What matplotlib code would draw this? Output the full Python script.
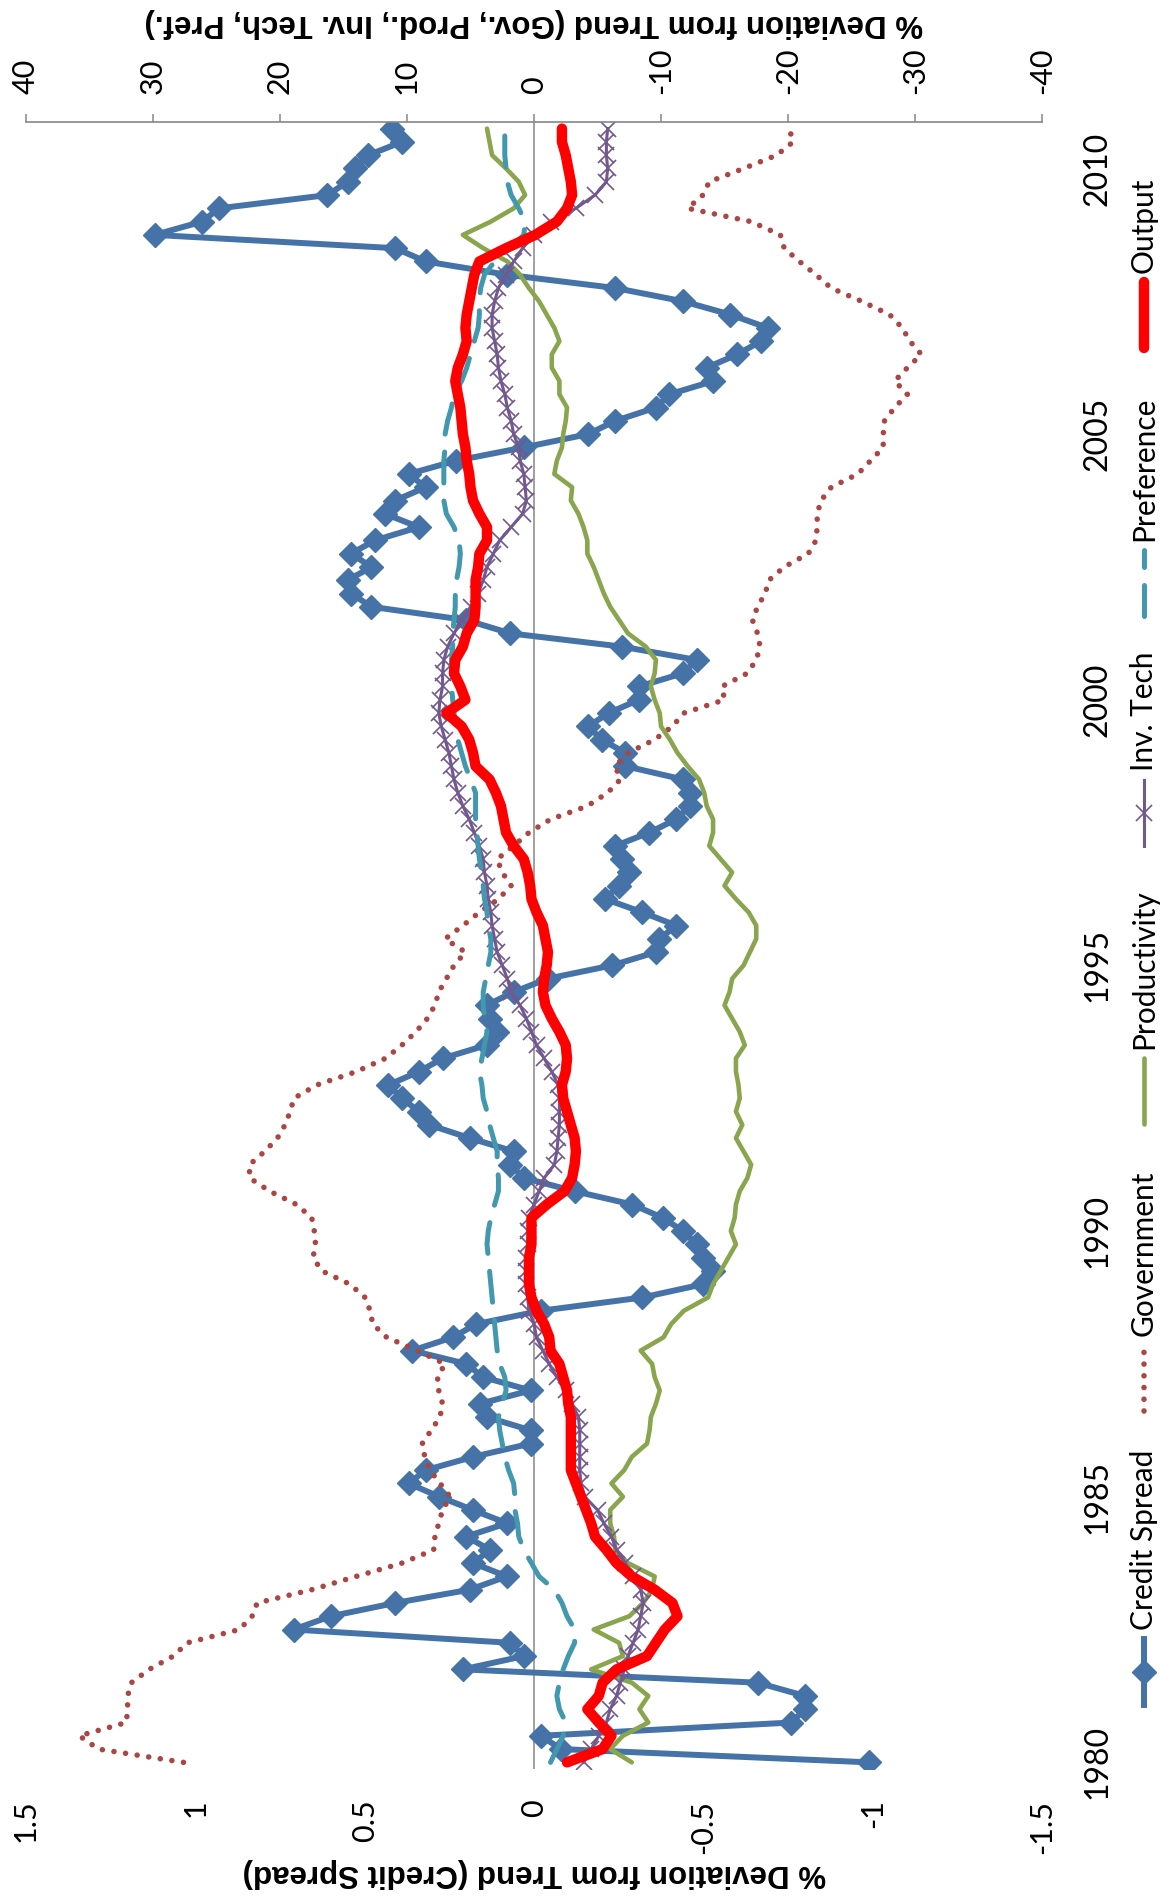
import numpy as np
import matplotlib
matplotlib.use("Agg")
import matplotlib.pyplot as plt
from matplotlib.lines import Line2D

# quarterly data, 1980Q1 .. 2010Q4
credit_spread = [-0.99, -0.08, -0.02, -0.76, -0.80, -0.80, -0.66, 0.21, 0.03, 0.07,
                 0.71, 0.60, 0.41, 0.19, 0.08, 0.18, 0.13, 0.20, 0.08, 0.18,
                 0.28, 0.37, 0.32, 0.18, 0.01, 0.01, 0.14, 0.16, 0.01, 0.15,
                 0.20, 0.36, 0.24, 0.17, -0.02, -0.32, -0.50, -0.53, -0.50, -0.48,
                 -0.44, -0.38, -0.29, -0.12, 0.03, 0.07, 0.06, 0.19, 0.31, 0.34,
                 0.39, 0.43, 0.34, 0.27, 0.14, 0.11, 0.13, 0.14, 0.06, -0.04,
                 -0.23, -0.36, -0.37, -0.42, -0.32, -0.21, -0.25, -0.28, -0.26, -0.24,
                 -0.34, -0.42, -0.46, -0.46, -0.44, -0.27, -0.27, -0.20, -0.16, -0.22,
                 -0.31, -0.31, -0.44, -0.48, -0.26, 0.07, 0.20, 0.48, 0.54, 0.55,
                 0.48, 0.54, 0.47, 0.34, 0.44, 0.41, 0.32, 0.37, 0.23, 0.03,
                 -0.16, -0.24, -0.36, -0.40, -0.53, -0.51, -0.60, -0.67, -0.69, -0.58,
                 -0.44, -0.24, 0.08, 0.32, 0.41, 1.12, 0.98, 0.93, 0.61, 0.55,
                 0.53, 0.49, 0.39, 0.42]

government = [27.6, 34.3, 35.8, 32.1, 32.0, 32.0, 31.7, 30.3, 28.4, 27.3,
              23.2, 22.2, 21.8, 17.5, 14.0, 10.4, 7.9, 7.8, 7.5, 7.2,
              6.6, 7.4, 8.2, 8.6, 8.8, 8.1, 7.4, 7.2, 7.5, 7.6,
              7.0, 9.2, 11.6, 12.7, 12.9, 13.3, 14.5, 16.7, 17.4, 17.2,
              17.3, 17.5, 18.7, 20.8, 22.4, 22.4, 21.2, 20.2, 19.6, 19.2,
              18.9, 17.1, 14.0, 11.7, 10.4, 9.3, 8.4, 7.8, 7.5, 6.9,
              6.3, 5.4, 7.0, 5.6, 4.3, 2.8, 1.8, 2.5, 2.9, 1.6,
              0.4, -1.3, -4.2, -5.8, -6.8, -6.4, -7.4, -9.5, -10.9, -11.8,
              -15.0, -14.8, -16.8, -17.5, -17.8, -17.6, -17.2, -17.6, -18.2, -18.5,
              -19.7, -21.6, -22.2, -22.3, -22.3, -22.6, -23.4, -25.5, -26.5, -27.5,
              -27.5, -27.6, -28.4, -29.4, -28.4, -29.4, -30.5, -29.6, -29.0, -28.0,
              -25.8, -23.4, -22.2, -20.9, -19.7, -19.4, -17.1, -12.1, -13.3, -13.8,
              -16.5, -19.1, -20.4, -20.1]

productivity = [-7.7, -6.0, -7.0, -9.0, -8.3, -9.0, -7.7, -4.5, -7.0, -6.7,
                -4.7, -7.5, -8.6, -9.3, -9.5, -7.4, -6.4, -6.3, -6.0, -6.0,
                -7.0, -6.1, -7.1, -7.7, -8.9, -9.1, -9.2, -9.6, -9.9, -9.5,
                -9.3, -8.4, -10.2, -10.8, -11.8, -13.7, -14.1, -14.7, -15.3, -15.9,
                -15.5, -15.8, -15.9, -16.2, -16.8, -17.1, -16.5, -15.9, -16.4, -15.9,
                -16.2, -16.1, -15.9, -15.9, -16.6, -16.2, -15.6, -15.0, -15.4, -15.6,
                -16.5, -17.0, -17.5, -17.5, -16.9, -15.9, -15.0, -15.6, -14.7, -13.8,
                -14.1, -14.1, -13.6, -13.4, -13.0, -12.1, -11.3, -10.7, -10.0, -9.9,
                -9.5, -9.2, -9.5, -9.6, -8.8, -7.4, -6.7, -6.0, -5.5, -5.1,
                -4.7, -4.2, -4.2, -3.9, -3.5, -2.9, -3.0, -1.6, -1.8, -2.2,
                -2.3, -2.5, -2.6, -2.0, -2.0, -1.4, -1.4, -2.0, -1.6, -1.0,
                -0.4, 0.4, 1.1, 2.1, 4.0, 5.6, 3.4, 1.6, 0.7, 1.2,
                2.2, 3.3, 3.5, 3.7]

inv_tech = [-3.9, -4.5, -5.1, -5.7, -6.0, -6.5, -6.8, -7.1, -7.4, -7.8,
            -8.2, -8.4, -8.6, -8.4, -7.8, -7.2, -6.5, -6.1, -5.5, -5.0,
            -4.0, -3.7, -3.6, -3.6, -3.6, -3.6, -3.5, -3.0, -2.5, -1.8,
            -1.2, -0.7, -0.2, 0.0, 0.4, 0.5, 0.6, 0.6, 0.6, 0.5,
            0.45, 0.4, 0.0, -0.4, -0.8, -1.6, -1.8, -1.9, -2.0, -2.0,
            -2.0, -1.9, -1.4, -0.8, -0.2, 0.2, 0.6, 1.1, 1.8, 2.1,
            2.5, 2.9, 3.1, 3.3, 3.4, 3.6, 3.7, 3.9, 4.0, 4.3,
            4.7, 5.1, 5.6, 6.0, 6.3, 6.5, 6.7, 7.0, 7.3, 7.5,
            7.4, 7.2, 7.2, 7.1, 6.8, 6.3, 5.7, 5.0, 4.4, 4.0,
            3.7, 3.2, 2.7, 1.8, 0.9, 0.6, 0.7, 0.8, 1.1, 1.2,
            1.6, 1.8, 2.1, 2.3, 2.6, 2.8, 2.9, 3.1, 3.3, 3.3,
            3.1, 2.8, 2.2, 1.6, 0.9, 0.0, -1.3, -3.3, -4.8, -5.7,
            -5.8, -5.7, -5.7, -5.8]

preference = [-1.3, -1.8, -2.3, -2.5, -2.0, -1.8, -2.0, -2.3, -2.7, -3.2,
              -3.2, -2.6, -2.2, -1.6, -0.4, 0.2, 0.8, 1.2, 1.3, 1.5,
              1.5, 1.6, 2.0, 2.3, 2.5, 2.7, 2.8, 2.5, 2.2, 2.3,
              2.7, 2.9, 3.0, 3.1, 3.2, 3.3, 3.4, 3.5, 3.6, 3.7,
              3.6, 3.4, 3.1, 2.8, 2.8, 2.9, 2.9, 3.2, 3.5, 3.7,
              4.0, 4.1, 4.3, 4.1, 3.9, 3.7, 3.9, 4.0, 4.0, 3.8,
              3.6, 3.4, 3.4, 3.6, 3.7, 3.9, 4.0, 4.1, 4.3, 4.4,
              4.5, 4.6, 4.6, 4.6, 5.0, 5.4, 5.7, 6.0, 6.2, 6.3,
              6.4, 6.5, 6.5, 6.5, 6.4, 6.4, 6.3, 6.2, 6.2, 6.1,
              5.9, 5.8, 5.9, 6.3, 6.9, 7.1, 7.1, 7.1, 7.1, 7.0,
              7.0, 6.8, 6.5, 6.3, 5.7, 5.3, 5.0, 4.7, 4.4, 4.3,
              4.3, 4.2, 3.9, 3.1, 1.9, 0.8, 0.7, 1.2, 1.8, 2.1,
              2.2, 2.3, 2.3, 2.3]

output = [-2.6, -5.4, -6.1, -5.1, -4.2, -5.1, -5.4, -6.5, -8.9, -9.6,
          -10.3, -11.3, -10.9, -9.5, -7.7, -6.5, -5.7, -4.8, -4.5, -4.1,
          -3.7, -3.3, -2.9, -2.9, -2.9, -2.9, -2.9, -2.7, -2.6, -2.3,
          -2.0, -1.3, -1.2, -0.8, -0.2, 0.2, 0.4, 0.4, 0.4, 0.2,
          0.2, 0.2, -1.0, -2.4, -3.0, -3.2, -3.3, -3.2, -2.9, -2.6,
          -2.3, -2.2, -2.5, -2.6, -2.5, -2.0, -1.4, -0.9, -0.7, -0.8,
          -1.0, -1.1, -0.9, -0.7, -0.2, 0.2, 0.3, 0.5, 0.8, 1.6,
          2.2, 2.4, 2.6, 3.0, 3.5, 4.6, 4.8, 5.1, 5.7, 6.9,
          5.4, 5.8, 6.3, 6.2, 5.6, 5.3, 4.7, 4.6, 4.6, 4.6,
          4.4, 4.3, 3.7, 3.7, 4.3, 4.8, 5.0, 5.1, 5.3, 5.4,
          5.6, 5.7, 5.8, 6.0, 6.2, 6.0, 5.6, 5.3, 5.4, 5.3,
          5.1, 4.9, 4.7, 4.3, 2.2, -0.1, -1.8, -2.6, -3.0, -2.9,
          -2.7, -2.5, -2.2, -2.2]

year_pos = [0, 20, 40, 60, 80, 100, 120]
year_labels = ['1980', '1985', '1990', '1995', '2000', '2005', '2010']
cs_ticks = [1.5, 1, 0.5, 0, -0.5, -1, -1.5]
cs_labels = ['1.5', '1', '0.5', '0', '-0.5', '-1', '-1.5']
pct_ticks = [40, 30, 20, 10, 0, -10, -20, -30, -40]
pct_labels = ['40', '30', '20', '10', '0', '-10', '-20', '-30', '-40']

c_cs = '#4572A7'
c_gov = '#AA4643'
c_prod = '#89A54E'
c_inv = '#71588F'
c_pref = '#4198AF'
c_out = '#FF0000'
grey = '#868686'

tick_font = ['Lato', 'DejaVu Sans']
plt.rcParams['font.family'] = tick_font

W, H = 1163, 1900
fig = plt.figure(figsize=(W / 100, H / 100), dpi=100)

# chart is drawn turned on its side: time runs bottom -> top
ax = fig.add_axes([26 / W, 1 - 1769 / H, 1016 / W, 1647 / H])
ax2 = ax.twiny()

q = np.arange(len(credit_spread))

gov_style = dict(color=c_gov, lw=4, linestyle=(0, (0.01, 2.1)), dash_capstyle='round')
pref_style = dict(color=c_pref, lw=3.6, linestyle=(0, (6.2, 3.6)), dash_capstyle='round')
prod_style = dict(color=c_prod, lw=3.3, solid_capstyle='round')

ax.axvline(0, color=grey, lw=1.1, zorder=1)
ax.plot(credit_spread, q, color=c_cs, lw=4.3, marker='D', ms=12, mec=c_cs, zorder=3)

ax2.plot(government, q, **gov_style)
ax2.plot(productivity, q, **prod_style)
ax2.plot(inv_tech, q, color=c_inv, lw=2.2, marker='x', ms=12, mew=1.2)
ax2.plot(preference, q, **pref_style)
ax2.plot(output, q, color=c_out, lw=7.5, solid_capstyle='round',
         solid_joinstyle='round')

ax.set_xlim(1.5, -1.5)
ax2.set_xlim(40, -40)
ax.set_ylim(-0.5, len(credit_spread) - 0.5)

for s in ax.spines.values():
    s.set_visible(False)
for name, s in ax2.spines.items():
    s.set_visible(name == 'top')
ax2.spines['top'].set_color(grey)
ax2.spines['top'].set_linewidth(1.2)

ax2.set_xticks(pct_ticks)
ax2.set_xticklabels(pct_labels, rotation=90, fontsize=22)
ax2.tick_params(axis='x', direction='out', length=6, width=1.1, color=grey, pad=14)

ax.set_xticks(cs_ticks)
ax.set_xticklabels(cs_labels, rotation=90, fontsize=22)
ax.tick_params(axis='x', length=0, pad=22)

ax.yaxis.tick_right()
ax.set_yticks(year_pos)
ax.set_yticklabels(year_labels, rotation=90, fontsize=23, va='center')
ax.tick_params(axis='y', length=0, pad=29)

title_font = ['Liberation Sans', 'DejaVu Sans']
fig.text(534 / W, 1 - 23 / H, '% Deviation from Trend (Gov., Prod., Inv. Tech, Pref.)',
         rotation=180, ha='center', va='center', fontsize=22.5,
         fontweight='bold', family=title_font)
fig.text(534 / W, 1 - 1873 / H, '% Deviation from Trend (Credit Spread)',
         rotation=180, ha='center', va='center', fontsize=22.5,
         fontweight='bold', family=title_font)

# legend, drawn by hand because it is turned too
lax = fig.add_axes([0, 0, 1, 1])
lax.set_xlim(0, W)
lax.set_ylim(H, 0)
lax.axis('off')

legend_items = [
    ('Credit Spread', 1672, dict(color=c_cs, lw=4.3, marker='D', ms=12, markevery=[1])),
    ('Government', 1378, gov_style),
    ('Productivity', 1091, prod_style),
    ('Inv. Tech', 813, dict(color=c_inv, lw=2.2, marker='x', ms=12, mew=1.2,
                            markevery=[1])),
    ('Preference', 583, pref_style),
    ('Output', 315, dict(color=c_out, lw=7.5, solid_capstyle='round')),
]
lx = 1144
for label, yc, style in legend_items:
    lax.add_line(Line2D([lx, lx, lx], [yc + 33, yc, yc - 33], **style))
    lax.text(lx, yc - 42, label, rotation=90, ha='center', va='bottom', fontsize=21.5)

fig.savefig('out.png', dpi=100)
